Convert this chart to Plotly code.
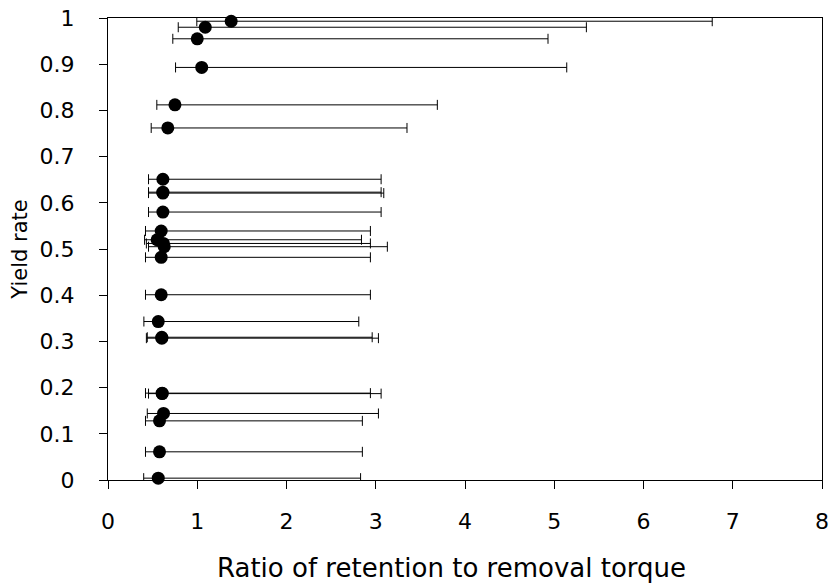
import plotly.graph_objects as go

# Yield rate (y) and ratio of retention to removal torque (x) with interval bounds
yield_rate = [0.993, 0.980, 0.955, 0.893, 0.812, 0.762, 0.651, 0.623, 0.621, 0.580,
              0.539, 0.520, 0.512, 0.505, 0.482, 0.401, 0.343, 0.309, 0.307,
              0.188, 0.187, 0.144, 0.128, 0.061, 0.004]
ratio = [1.38, 1.09, 1.00, 1.05, 0.75, 0.67, 0.615, 0.615, 0.615, 0.615,
         0.596, 0.55, 0.62, 0.63, 0.596, 0.596, 0.563, 0.603, 0.603,
         0.607, 0.607, 0.622, 0.577, 0.577, 0.563]
lower = [0.995, 0.787, 0.726, 0.757, 0.547, 0.484, 0.454, 0.454, 0.454, 0.454,
         0.42, 0.41, 0.43, 0.454, 0.42, 0.42, 0.402, 0.44, 0.43,
         0.42, 0.454, 0.44, 0.42, 0.42, 0.40]
upper = [6.77, 5.36, 4.93, 5.14, 3.69, 3.35, 3.06, 3.06, 3.09, 3.06,
         2.94, 2.84, 2.94, 3.13, 2.94, 2.94, 2.81, 2.96, 3.03,
         2.94, 3.06, 3.03, 2.85, 2.85, 2.83]

x_ticks = [0, 1, 2, 3, 4, 5, 6, 7, 8]
y_ticks = [0, 0.1, 0.2, 0.3, 0.4, 0.5, 0.6, 0.7, 0.8, 0.9, 1]
y_tick_text = ["0", "0.1", "0.2", "0.3", "0.4", "0.5", "0.6", "0.7", "0.8", "0.9", "1"]
x_title = "Ratio of retention to removal torque"
y_title = "Yield rate"

err_plus = [u - r for u, r in zip(upper, ratio)]
err_minus = [r - l for r, l in zip(ratio, lower)]

FONT = "DejaVu Sans, Liberation Sans, Arial, sans-serif"

fig = go.Figure()
fig.add_trace(go.Scatter(
    x=ratio, y=yield_rate, mode="markers",
    marker=dict(color="black", size=13),
    error_x=dict(type="data", symmetric=False, array=err_plus, arrayminus=err_minus,
                 color="black", thickness=1, width=5),
    cliponaxis=False, showlegend=False,
))

fig.update_layout(
    width=832, height=584,
    margin=dict(l=108, r=10, t=18, b=104),
    paper_bgcolor="white", plot_bgcolor="white",
    font=dict(family=FONT, color="black", size=22),
    xaxis=dict(range=[0, 8], tickvals=x_ticks, ticks="outside", ticklen=8,
               tickcolor="black", showline=True, linecolor="black", linewidth=1,
               mirror=True, showgrid=False, zeroline=False, automargin=False,
               tickfont=dict(family=FONT, size=22), ticklabelstandoff=14),
    yaxis=dict(range=[0, 1], tickvals=y_ticks, ticktext=y_tick_text, ticks="outside",
               ticklen=8, tickcolor="black", showline=True, linecolor="black",
               linewidth=1, mirror=True, showgrid=False, zeroline=False, automargin=False,
               tickfont=dict(family=FONT, size=22), ticklabelstandoff=20,
               title=dict(text=y_title, font=dict(family=FONT, size=21), standoff=6)),
    annotations=[dict(text=x_title, xref="paper", yref="paper", x=0.481, y=0,
                      xanchor="center", yanchor="middle", yshift=-88, showarrow=False,
                      font=dict(family=FONT, size=26, color="black"))],
)

fig.write_html("out.html")
